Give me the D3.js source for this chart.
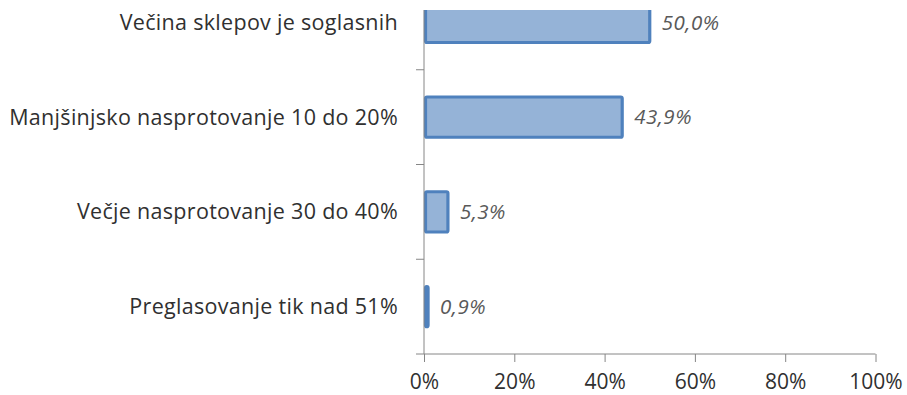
<!DOCTYPE html>
<html>
<head>
<meta charset="utf-8">
<script src="https://cdn.jsdelivr.net/npm/d3@7"></script>
<style>
  html, body { margin: 0; padding: 0; background: #fff; }
  svg { display: block; }
</style>
</head>
<body>
<svg id="chart" width="907" height="395"></svg>
<script>
// Categories listed top to bottom, with their shares
const categories = [
  "Večina sklepov je soglasnih",
  "Manjšinjsko nasprotovanje 10 do 20%",
  "Večje nasprotovanje 30 do 40%",
  "Preglasovanje tik nad 51%"
];
const values = [50.0, 43.9, 5.3, 0.9];
const xTicks = [0, 20, 40, 60, 80, 100];

const svg = d3.select("#chart");
const left = 424, right = 875.5, bottom = 354, plotTop = 10;
const step = 94.75;

const x = d3.scaleLinear().domain([0, 100]).range([left, right]);
const y = d3.scaleBand()
  .domain(categories)
  .range([bottom - step * categories.length, bottom])
  .paddingInner(0.575)
  .paddingOuter(0.2875);

const fontFamily = "'Open Sans', Lato, sans-serif";

// Plot area clip (the top band runs past the frame)
svg.append("defs").append("clipPath").attr("id", "plotClip")
  .append("rect").attr("x", 0).attr("y", plotTop).attr("width", 907).attr("height", bottom - plotTop + 2);

const data = categories.map((c, i) => ({ c, v: values[i] }));

svg.append("g").attr("clip-path", "url(#plotClip)")
  .selectAll("rect").data(data).join("rect")
  .attr("x", x(0) + 1.5)
  .attr("y", d => y(d.c))
  .attr("width", d => Math.max(0.5, x(d.v) - x(0) - 1.5))
  .attr("height", y.bandwidth())
  .attr("rx", 1.5)
  .attr("fill", "#95b3d7")
  .attr("stroke", "#4f81bd")
  .attr("stroke-width", 3.2);

// Value labels
svg.append("g").selectAll("text").data(data).join("text")
  .attr("x", d => x(d.v) + 12)
  .attr("y", d => y(d.c) + y.bandwidth() / 2)
  .attr("dy", "0.35em")
  .attr("font-family", fontFamily)
  .attr("font-style", "italic")
  .attr("font-size", 20.5)
  .attr("letter-spacing", 0.5)
  .attr("fill", "#595959")
  .text(d => d.v.toFixed(1).replace(".", ",") + "%");

// Category axis
const yAxis = svg.append("g").attr("transform", `translate(${left},0)`);
yAxis.append("line")
  .attr("x1", 0).attr("x2", 0).attr("y1", plotTop).attr("y2", bottom)
  .attr("stroke", "#868686").attr("stroke-width", 1);
const bounds = d3.range(0, categories.length + 1).map(i => bottom - i * step).filter(v => v >= plotTop);
yAxis.selectAll("line.tick").data(bounds).join("line").attr("class", "tick")
  .attr("x1", -8).attr("x2", 0).attr("y1", d => d).attr("y2", d => d)
  .attr("stroke", "#868686");
yAxis.selectAll("text").data(categories).join("text")
  .attr("x", -26)
  .attr("y", d => y(d) + y.bandwidth() / 2)
  .attr("dy", "0.35em")
  .attr("text-anchor", "end")
  .attr("font-family", fontFamily)
  .attr("font-size", 21.5)
  .attr("letter-spacing", 0.3)
  .attr("fill", "#303030")
  .text(d => d);

// Value axis
const xAxis = svg.append("g").attr("transform", `translate(0,${bottom})`)
  .call(d3.axisBottom(x).tickValues(xTicks).tickSize(8).tickFormat(d => d + "%"));
xAxis.select(".domain").attr("stroke", "#868686").attr("d", `M${left},0H${right}`);
xAxis.selectAll(".tick line").attr("stroke", "#868686");
xAxis.selectAll(".tick text")
  .attr("y", 35)
  .attr("dy", 0)
  .attr("font-family", fontFamily)
  .attr("font-size", 21)
  .attr("fill", "#303030");
</script>
</body>
</html>
